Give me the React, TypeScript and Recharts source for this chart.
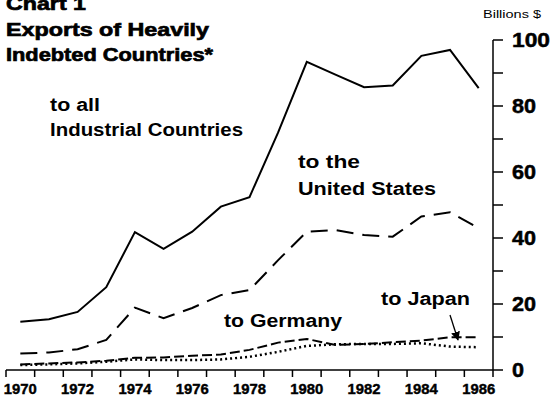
import React from "react";
import { LineChart, Line, XAxis, YAxis } from "recharts";

// Exports of heavily indebted countries, billions of US$
const years = [1970, 1971, 1972, 1973, 1974, 1975, 1976, 1977, 1978, 1979, 1980, 1981, 1982, 1983, 1984, 1985, 1986];
const allIndustrial = [14.6, 15.4, 17.6, 25.1, 41.8, 36.7, 41.9, 49.5, 52.4, 72, 93.4, 89.5, 85.7, 86.2, 95.2, 97, 85.4];
const unitedStates = [5.0, 5.3, 6.3, 9.1, 18.9, 15.7, 18.8, 22.7, 24.2, 33.3, 41.9, 42.4, 40.9, 40.4, 46.5, 47.8, 43];
const japan = [1.7, 2.0, 2.3, 2.8, 3.7, 3.8, 4.3, 4.7, 6.1, 8.3, 9.4, 7.6, 7.9, 8.4, 8.9, 9.9, 9.9];
const germany = [1.5, 1.7, 2.0, 2.5, 3.2, 3.0, 3.0, 3.2, 4.0, 5.5, 7.3, 7.8, 7.9, 7.9, 8.1, 7.1, 6.9];

const yearLabels = [1970, 1972, 1974, 1976, 1978, 1980, 1982, 1984, 1986];
const valueTicks = [0, 10, 20, 30, 40, 50, 60, 70, 80, 90, 100];

const FONT = '"Liberation Sans", Arial, Helvetica, sans-serif';

const chartData = years.map((year, i) => ({
  year,
  all: allIndustrial[i],
  us: unitedStates[i],
  japan: japan[i],
  germany: germany[i],
}));

// tick marks sit between the years, labels on every other year
const halfYears = [...years.map((y) => y - 0.5), years[years.length - 1] + 0.5];
const xTicks = [...halfYears, ...yearLabels].sort((a, b) => a - b);

const XTick = (props: any) => {
  const { x, y, payload } = props;
  const v = payload.value;
  if (v % 1 !== 0) {
    return <line x1={x} y1={y} x2={x} y2={y + 7} stroke="#000" strokeWidth={1.5} />;
  }
  return (
    <text x={x} y={y + 24} textAnchor="middle" fontFamily={FONT} fontWeight={700} fontSize={14}
      textLength={33} lengthAdjust="spacingAndGlyphs" fill="#000" stroke="#000" strokeWidth={0.4}>
      {v}
    </text>
  );
};

const YTick = (props: any) => {
  const { x, y, payload } = props;
  const v = payload.value;
  return (
    <g>
      <line x1={x} y1={y} x2={x + 10} y2={y} stroke="#000" strokeWidth={1.5} />
      {v % 20 === 0 && (
        <text x={x + 19} y={y + 7} textAnchor="start" fontFamily={FONT} fontWeight={700} fontSize={20}
          textLength={v >= 100 ? 38 : v >= 10 ? 24 : 12} lengthAdjust="spacingAndGlyphs"
          fill="#000" stroke="#000" strokeWidth={0.5}>
          {v}
        </text>
      )}
    </g>
  );
};

const Label = ({ x, y, w, size = 18, weight = 700, heavy = 0, children }: any) => (
  <text x={x} y={y} fontFamily={FONT} fontWeight={weight} fontSize={size} textLength={w}
    lengthAdjust="spacingAndGlyphs" fill="#000" stroke={heavy ? "#000" : "none"} strokeWidth={heavy}>
    {children}
  </text>
);

export default function App() {
  return (
    <div style={{ position: "absolute", left: 0, top: 0, width: 553, height: 401, overflow: "hidden", background: "#fff" }}>
      <LineChart width={553} height={401} data={chartData} margin={{ top: 40, right: 0, bottom: 0, left: 6 }}>
        <XAxis
          dataKey="year"
          type="number"
          domain={[1969.5, 1986.5]}
          ticks={xTicks}
          interval={0}
          height={31}
          tickSize={0}
          tickMargin={0}
          tickLine={false}
          axisLine={{ stroke: "#000", strokeWidth: 1.5 }}
          tick={<XTick />}
        />
        <YAxis
          orientation="right"
          type="number"
          domain={[0, 100]}
          ticks={valueTicks}
          interval={0}
          width={60}
          tickSize={0}
          tickMargin={0}
          tickLine={false}
          axisLine={{ stroke: "#000", strokeWidth: 1.5 }}
          tick={<YTick />}
        />
        <Line type="linear" dataKey="all" stroke="#000" strokeWidth={2} dot={false} isAnimationActive={false} />
        <Line type="linear" dataKey="us" stroke="#000" strokeWidth={2} strokeDasharray="17 9" dot={false} isAnimationActive={false} />
        <Line type="linear" dataKey="japan" stroke="#000" strokeWidth={2} strokeDasharray="10 4" dot={false} isAnimationActive={false} />
        <Line type="linear" dataKey="germany" stroke="#000" strokeWidth={2.5} strokeDasharray="2 3" dot={false} isAnimationActive={false} />
      </LineChart>
      <svg width={553} height={401} style={{ position: "absolute", left: 0, top: 0, pointerEvents: "none" }}>
        <defs>
          <marker id="arrowHead" viewBox="0 0 10 10" refX="9" refY="5" markerWidth="7" markerHeight="7" orient="auto">
            <path d="M0,0 L10,5 L0,10 z" fill="#000" />
          </marker>
        </defs>
        <Label x={6} y={10} w={80} size={19} heavy={0.7}>Chart 1</Label>
        <Label x={6} y={36} w={203} size={19} heavy={0.7}>Exports of Heavily</Label>
        <Label x={6} y={61} w={207} size={19} heavy={0.7}>Indebted Countries*</Label>
        <Label x={483} y={18} w={58} size={11} weight={400}>Billions $</Label>
        <Label x={50} y={111} w={50}>to all</Label>
        <Label x={50} y={136} w={193}>Industrial Countries</Label>
        <Label x={298} y={168} w={62}>to the</Label>
        <Label x={298} y={195} w={138}>United States</Label>
        <Label x={381} y={305} w={89}>to Japan</Label>
        <Label x={224} y={327} w={118}>to Germany</Label>
        <line x1={450} y1={315} x2={458} y2={340} stroke="#000" strokeWidth={1.3} markerEnd="url(#arrowHead)" />
      </svg>
    </div>
  );
}
